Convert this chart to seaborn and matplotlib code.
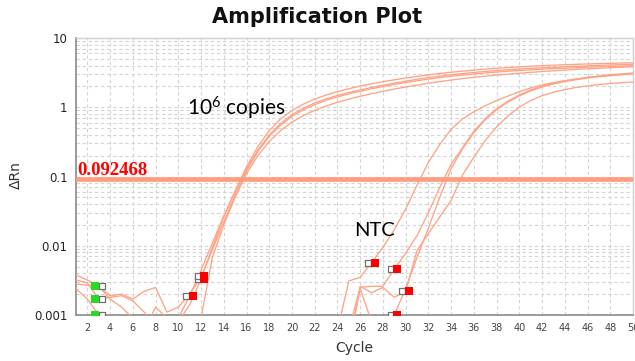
import matplotlib
matplotlib.use("Agg")
import matplotlib.pyplot as plt
import matplotlib.transforms as mtransforms
from matplotlib.ticker import LogLocator, NullFormatter, FixedLocator
import seaborn as sns
import pandas as pd

# ---------------- data ----------------
cycles_std = list(range(1, 51))
cycles_ntc = list(range(22, 51))

std_1 = [0.0038, 0.0032, 0.0026, 0.0017, 0.0013, 0.0009, 0.0006, 0.0005, 0.0006, 0.0008, 0.0014, 0.0033,
         0.0095, 0.026, 0.062, 0.138,
         0.27, 0.46, 0.68, 0.9, 1.11, 1.31, 1.5, 1.68, 1.85, 2.02, 2.18, 2.34, 2.49, 2.64, 2.79, 2.93, 3.07,
         3.2, 3.32, 3.44, 3.55, 3.65, 3.74, 3.83, 3.91, 3.98, 4.05, 4.11, 4.17, 4.22, 4.27, 4.31, 4.35, 4.38]
std_2 = [0.0032, 0.0029, 0.0017, 0.0018, 0.0019, 0.0016, 0.0011, 0.0007, 0.0005, 0.0009, 0.0019, 0.0044,
         0.011, 0.027, 0.061, 0.128,
         0.24, 0.4, 0.58, 0.78, 0.97, 1.15, 1.32, 1.48, 1.63, 1.78, 1.93, 2.08, 2.23, 2.38, 2.53, 2.68, 2.82,
         2.95, 3.07, 3.18, 3.29, 3.39, 3.48, 3.56, 3.64, 3.71, 3.78, 3.84, 3.9, 3.96, 4.02, 4.08, 4.13, 4.18]
std_3 = [0.0028, 0.0027, 0.0026, 0.0019, 0.0020, 0.0017, 0.0022, 0.0025, 0.0011, 0.0013, 0.0020, 0.0035,
         0.0088, 0.022, 0.054, 0.12,
         0.23, 0.38, 0.55, 0.74, 0.92, 1.09, 1.26, 1.41, 1.56, 1.7, 1.85, 1.99, 2.13, 2.27, 2.41, 2.55, 2.68,
         2.8, 2.92, 3.03, 3.13, 3.22, 3.31, 3.39, 3.47, 3.54, 3.61, 3.67, 3.73, 3.79, 3.84, 3.89, 3.94, 3.98]
std_4 = [0.0024, 0.0017, 0.0010, 0.0007, 0.0005, 0.0004, 0.0006, 0.0013, 0.0009, 0.0006, 0.0005, 0.0009,
         0.0068, 0.020, 0.050, 0.11,
         0.2, 0.32, 0.46, 0.61, 0.76, 0.9, 1.04, 1.18, 1.31, 1.44, 1.57, 1.7, 1.83, 1.96, 2.09, 2.22, 2.35,
         2.47, 2.59, 2.7, 2.81, 2.91, 3.01, 3.1, 3.19, 3.28, 3.36, 3.44, 3.52, 3.59, 3.66, 3.73, 3.79, 3.85]

ntc_1 = [0.0003, 0.0003, 0.0006, 0.0031, 0.0035, 0.0057, 0.0095, 0.017, 0.034, 0.075, 0.16, 0.29, 0.48,
         0.68, 0.86, 1.05, 1.25, 1.45, 1.68, 1.9, 2.1, 2.27, 2.42, 2.56, 2.7, 2.83, 2.94, 3.04, 3.12]
ntc_2 = [0.0003, 0.0003, 0.0003, 0.0006, 0.0025, 0.0026, 0.0026, 0.0046, 0.0078, 0.014, 0.03, 0.07, 0.15,
         0.26, 0.45, 0.68, 0.95, 1.22, 1.5, 1.78, 2.02, 2.22, 2.4, 2.55, 2.68, 2.8, 2.9, 2.99, 3.07]
ntc_3 = [0.0003, 0.0003, 0.0003, 0.0004, 0.0024, 0.0008, 0.0004, 0.001, 0.0024, 0.0068, 0.018, 0.05, 0.13,
         0.25, 0.43, 0.66, 0.92, 1.19, 1.46, 1.72, 1.96, 2.17, 2.35, 2.5, 2.64, 2.76, 2.86, 2.95, 3.02]
ntc_4 = [0.0003, 0.0003, 0.0003, 0.0003, 0.0026, 0.0021, 0.0025, 0.0018, 0.0022, 0.0085, 0.015, 0.026, 0.045,
         0.105, 0.19, 0.33, 0.52, 0.75, 1.0, 1.25, 1.47, 1.65, 1.8, 1.93, 2.04, 2.13, 2.2, 2.26, 2.31]

threshold = 0.092468

# baseline start (green) and end (red) markers
start_cycles = [3, 3, 3]
start_values = [0.0026, 0.0017, 0.0010]
end_cycles = [11, 12, 12, 27, 29, 29, 30]
end_values = [0.0019, 0.0033, 0.0036, 0.0057, 0.0046, 0.0010, 0.0022]

x_ticks = list(range(2, 51, 2))
y_ticks = [0.001, 0.01, 0.1, 1, 10]
y_tick_labels = ["0.001", "0.01", "0.1", "1", "10"]

# ---------------- build table ----------------
rows = []
for name, vals in [("s1", std_1), ("s2", std_2), ("s3", std_3), ("s4", std_4)]:
    for c, v in zip(cycles_std, vals):
        rows.append({"well": name, "cycle": c, "drn": v})
for name, vals in [("n1", ntc_1), ("n2", ntc_2), ("n3", ntc_3), ("n4", ntc_4)]:
    for c, v in zip(cycles_ntc, vals):
        rows.append({"well": name, "cycle": c, "drn": v})
df = pd.DataFrame(rows)

# ---------------- style ----------------
sns.set_style("white")
plt.rcParams["font.family"] = ["DejaVu Sans"]
plt.rcParams["mathtext.fontset"] = "custom"
plt.rcParams["mathtext.rm"] = "Lato"

CURVE = "#FFA386"
THRESH = "#FF9E80"
GRID = "#d4d4d4"

fig = plt.figure(figsize=(6.35, 3.61), dpi=100)
ax = fig.add_axes([76 / 635, 1 - 315 / 361, (633 - 76) / 635, (315 - 38) / 361])
ax.set_yscale("log")

sns.lineplot(data=df, x="cycle", y="drn", units="well", estimator=None,
             color=CURVE, lw=0.95, ax=ax, legend=False, zorder=3)

ax.axhline(threshold, color=THRESH, lw=3.4, zorder=4)

ax.set_xlim(1, 50)
ax.set_ylim(0.001, 10)

ax.xaxis.set_major_locator(FixedLocator(x_ticks))
ax.set_xticklabels([str(t) for t in x_ticks])
ax.yaxis.set_major_locator(FixedLocator(y_ticks))
ax.set_yticklabels(y_tick_labels)
ax.yaxis.set_minor_locator(LogLocator(base=10, subs=range(2, 10)))
ax.yaxis.set_minor_formatter(NullFormatter())

ax.grid(True, which="major", axis="x", color=GRID, lw=0.8, ls=(0, (3, 2.5)), zorder=0)
ax.grid(True, which="both", axis="y", color=GRID, lw=0.8, ls=(0, (3, 2.5)), zorder=0)
ax.set_axisbelow(True)

ax.tick_params(axis="x", which="major", length=3, width=0.8, color="#888888",
               labelsize=7, labelcolor="#444444", pad=3)
ax.tick_params(axis="y", which="major", length=4, width=0.8, color="#888888",
               labelsize=8.5, labelcolor="#222222", pad=2)
ax.tick_params(axis="y", which="minor", length=0)

for side in ["left", "bottom"]:
    ax.spines[side].set_color("#8a8a8a")
    ax.spines[side].set_linewidth(1.2)
for side in ["top", "right"]:
    ax.spines[side].set_color("#d0d0d0")
    ax.spines[side].set_linewidth(1.0)

ax.set_xlabel("Cycle", fontsize=10, color="#333333")
ax.set_ylabel("ΔRn", fontsize=10, color="#333333")
ax.xaxis.set_label_coords(0.5, (315 - 341) / 277)
ax.yaxis.set_label_coords((23 - 76) / 557, (315 - 175) / 277)

# markers: baseline start = green (left) + hollow (right); baseline end = hollow (left) + red (right)
left_t = mtransforms.offset_copy(ax.transData, fig=fig, x=-3.5, y=0, units="dots")
right_t = mtransforms.offset_copy(ax.transData, fig=fig, x=3.0, y=0, units="dots")
sns.scatterplot(x=start_cycles, y=start_values, marker="s", s=18, facecolor="white",
                edgecolor="#707070", linewidth=0.9, transform=right_t, ax=ax,
                legend=False, zorder=5)
sns.scatterplot(x=start_cycles, y=start_values, marker="s", s=26, color="#22dd22",
                edgecolor="#22dd22", linewidth=0, transform=left_t, ax=ax,
                legend=False, zorder=6)
sns.scatterplot(x=end_cycles, y=end_values, marker="s", s=18, facecolor="white",
                edgecolor="#707070", linewidth=0.9, transform=left_t, ax=ax,
                legend=False, zorder=5)
sns.scatterplot(x=end_cycles, y=end_values, marker="s", s=26, color="#ff0000",
                edgecolor="#ff0000", linewidth=0, transform=right_t, ax=ax,
                legend=False, zorder=6)

# texts
ax.annotate("0.092468", xy=(1, threshold), xytext=(1, 4), textcoords="offset pixels",
            ha="left", va="baseline", color="#ff0000", fontsize=13.5,
            family="Liberation Serif", fontweight="bold", zorder=7)

fig.text(0.5, 1 - 17 / 361, "Amplification Plot", ha="center", va="center",
         fontsize=15, fontweight="bold", color="#111111")

fig.text(187 / 635, 1 - 115 / 361, r"$\mathregular{10^6}$ copies", ha="left", va="baseline",
         fontsize=15, family="Lato", color="black")
fig.text(354 / 635, 1 - 236 / 361, "NTC", ha="left", va="baseline",
         fontsize=14.5, family="Lato", color="black")

fig.savefig("out.png", dpi=100)
